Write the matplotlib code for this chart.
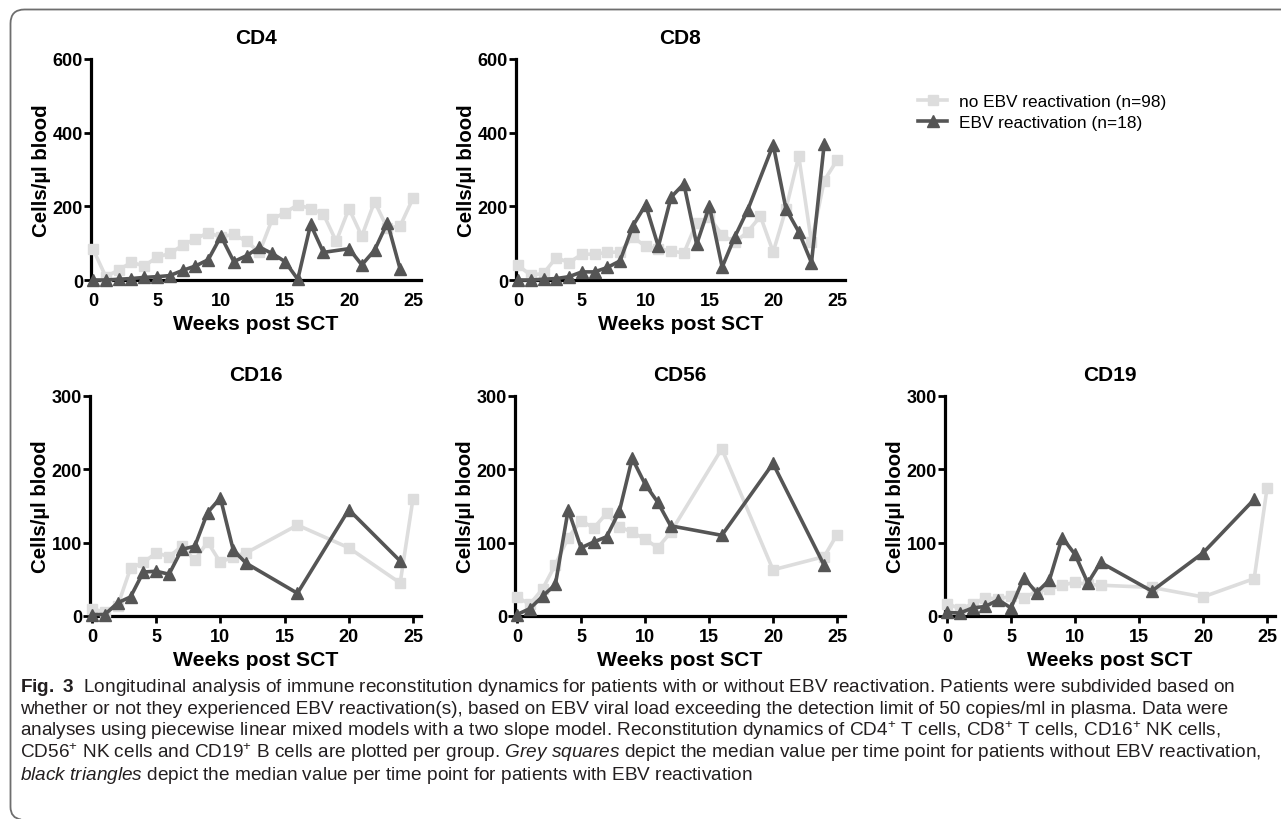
import matplotlib
matplotlib.use('Agg')
import matplotlib.pyplot as plt
from matplotlib import font_manager as fm
from matplotlib.path import Path
from matplotlib.patches import PathPatch

# ---------------- data ----------------
weeks_all = list(range(26))
weeks_ebv_top = list(range(19)) + [20, 21, 22, 23, 24]
weeks_no_bot = list(range(13)) + [16, 20, 24, 25]
weeks_ebv_bot = list(range(13)) + [16, 20, 24]

cd4_no = [84, 9, 27, 48, 38, 62, 72, 94, 112, 128, 117, 124, 105, 75, 165, 183,
          204, 194, 179, 105, 194, 119, 213, 140, 147, 222]
cd4_ebv = [0, 0, 2, 4, 7, 9, 12, 26, 38, 55, 119, 50, 66, 89, 72, 50, 2, 151, 75,
           85, 41, 81, 156, 29]
cd8_no = [40, 13, 18, 61, 47, 70, 70, 75, 76, 117, 91, 85, 79, 73, 156, 170, 122,
          102, 131, 173, 76, 193, 336, 102, 270, 325]
cd8_ebv = [0, 0, 2, 4, 9, 22, 22, 34, 52, 147, 204, 91, 225, 261, 97, 200, 35, 118,
           190, 367, 193, 131, 47, 370]
cd16_no = [10, 5, 14, 65, 73, 86, 81, 95, 76, 101, 73, 81, 86, 124, 93, 45, 160]
cd16_ebv = [2, 2, 18, 26, 60, 61, 57, 91, 95, 141, 161, 90, 72, 31, 145, 75]
cd56_no = [26, 16, 37, 70, 107, 130, 120, 140, 122, 114, 105, 93, 114, 228, 63, 81, 111]
cd56_ebv = [2, 10, 27, 43, 145, 93, 101, 108, 143, 215, 180, 155, 123, 110, 208, 69]
cd19_no = [17, 10, 16, 25, 23, 27, 25, 33, 37, 42, 46, 43, 42, 39, 26, 51, 174]
cd19_ebv = [5, 4, 11, 13, 22, 11, 52, 32, 49, 107, 84, 45, 73, 34, 86, 159]

titles = ["CD4", "CD8", "CD16", "CD56", "CD19"]
legend_labels = ["no EBV reactivation (n=98)", "EBV reactivation (n=18)"]
xticks = [0, 5, 10, 15, 20, 25]
yticks_top = [0, 200, 400, 600]
yticks_bot = [0, 100, 200, 300]
xlabel = "Weeks post SCT"
ylabel = "Cells/\u00b5l blood"

caption_lines = [
    r"$\mathbf{Fig.\ 3}$  Longitudinal analysis of immune reconstitution dynamics for patients with or without EBV reactivation. Patients were subdivided based on",
    "whether or not they experienced EBV reactivation(s), based on EBV viral load exceeding the detection limit of 50 copies/ml in plasma. Data were",
    r"analyses using piecewise linear mixed models with a two slope model. Reconstitution dynamics of CD4$^{+}$ T cells, CD8$^{+}$ T cells, CD16$^{+}$ NK cells,",
    r"CD56$^{+}$ NK cells and CD19$^{+}$ B cells are plotted per group. $\mathit{Grey\ squares}$ depict the median value per time point for patients without EBV reactivation,",
    r"$\mathit{black\ triangles}$ depict the median value per time point for patients with EBV reactivation",
]

# ---------------- styling ----------------
W, H, DPI = 1281, 820, 100
GREY = "#dddddd"
DARK = "#555555"
installed = {f.name for f in fm.fontManager.ttflist}
MAIN = "Liberation Sans" if "Liberation Sans" in installed else "DejaVu Sans"
CAP = "Liberation Sans Narrow" if "Liberation Sans Narrow" in installed else MAIN

plt.rcParams['font.family'] = [MAIN, 'DejaVu Sans']
plt.rcParams['mathtext.fontset'] = 'custom'
plt.rcParams['mathtext.rm'] = CAP
plt.rcParams['mathtext.it'] = CAP + ':italic'
plt.rcParams['mathtext.bf'] = CAP + ':bold'

fig = plt.figure(figsize=(W / DPI, H / DPI), dpi=DPI)

# border overlay in pixel units (open at right and bottom edges)
bg = fig.add_axes([0, 0, 1, 1], zorder=-5)
bg.set_xlim(0, W)
bg.set_ylim(H, 0)
bg.axis('off')
verts = [(1290, 10.5), (24.5, 10.5), (10.5, 10.5), (10.5, 24.5),
         (10.5, 808), (10.5, 819), (21, 820.5)]
codes = [Path.MOVETO, Path.LINETO, Path.CURVE3, Path.CURVE3,
         Path.LINETO, Path.CURVE3, Path.CURVE3]
bg.add_patch(PathPatch(Path(verts, codes), fc='none', ec='#6e6e6e', lw=1.3,
                       clip_on=False))


def px_axes(x0, x25, y0, ytop):
    s = (x25 - x0) / 25.0
    left = x0 - 0.13 * s
    right = x0 + 25.6 * s
    return fig.add_axes([left / W, 1 - y0 / H, (right - left) / W, (y0 - ytop) / H])


panels = [
    (px_axes(93, 413, 281, 60), weeks_all, cd4_no, weeks_ebv_top, cd4_ebv, yticks_top, True),
    (px_axes(518, 837, 281, 60), weeks_all, cd8_no, weeks_ebv_top, cd8_ebv, yticks_top, True),
    (px_axes(92, 413, 617, 397), weeks_no_bot, cd16_no, weeks_ebv_bot, cd16_ebv, yticks_bot, False),
    (px_axes(517, 837, 617, 397), weeks_no_bot, cd56_no, weeks_ebv_bot, cd56_ebv, yticks_bot, False),
    (px_axes(947, 1267, 617, 397), weeks_no_bot, cd19_no, weeks_ebv_bot, cd19_ebv, yticks_bot, False),
]

handles = None
for (ax, xn, yn, xe, ye, yt, top), title in zip(panels, titles):
    h1, = ax.plot(xn, yn, color=GREY, lw=2.6, marker='s', ms=6.5, mec=GREY,
                  clip_on=False, zorder=3)
    h2, = ax.plot(xe, ye, color=DARK, lw=2.6, marker='^', ms=8, mec=DARK,
                  clip_on=False, zorder=4)
    handles = [h1, h2]
    ax.set_xlim(-0.13, 25.6)
    ax.set_ylim(0, yt[-1])
    ax.set_xticks(xticks)
    ax.set_yticks(yt)
    for sp in ['top', 'right']:
        ax.spines[sp].set_visible(False)
    for sp in ['left', 'bottom']:
        ax.spines[sp].set_linewidth(2.3)
    ax.tick_params(axis='y', length=5, width=2, labelsize=13, pad=1)
    ax.tick_params(axis='x', length=5, width=2, labelsize=13, pad=3.5,
                   color='none' if top else 'black')
    for lab in ax.get_xticklabels() + ax.get_yticklabels():
        lab.set_fontweight('bold')
    ax.set_title(title, fontsize=15, fontweight='bold', pad=11.5)
    ax.set_xlabel(xlabel, fontsize=15.2, fontweight='bold', labelpad=4)
    ax.set_ylabel(ylabel, fontsize=14.7, fontweight='bold', labelpad=1)
    ax.patch.set_alpha(0)

fig.legend(handles, legend_labels, loc='center left',
           bbox_to_anchor=(918 / W, 1 - 113 / H), frameon=False,
           fontsize=12.4, handlelength=1.7, handletextpad=0.7,
           labelspacing=0.3, borderpad=0, borderaxespad=0, numpoints=1)

# caption
baselines = [692, 714, 736, 758, 780]
texts = [fig.text(20 / W, 1 - b / H, s, fontsize=12, family=[CAP, 'DejaVu Sans'],
                  color='#231f20', va='baseline', ha='left')
         for s, b in zip(caption_lines, baselines)]
fig.canvas.draw()
r = fig.canvas.get_renderer()
w0 = texts[0].get_window_extent(r).width
fs = 12 * (1212.0 / w0)
for t in texts:
    t.set_fontsize(fs)

fig.savefig("out.png", dpi=DPI)
